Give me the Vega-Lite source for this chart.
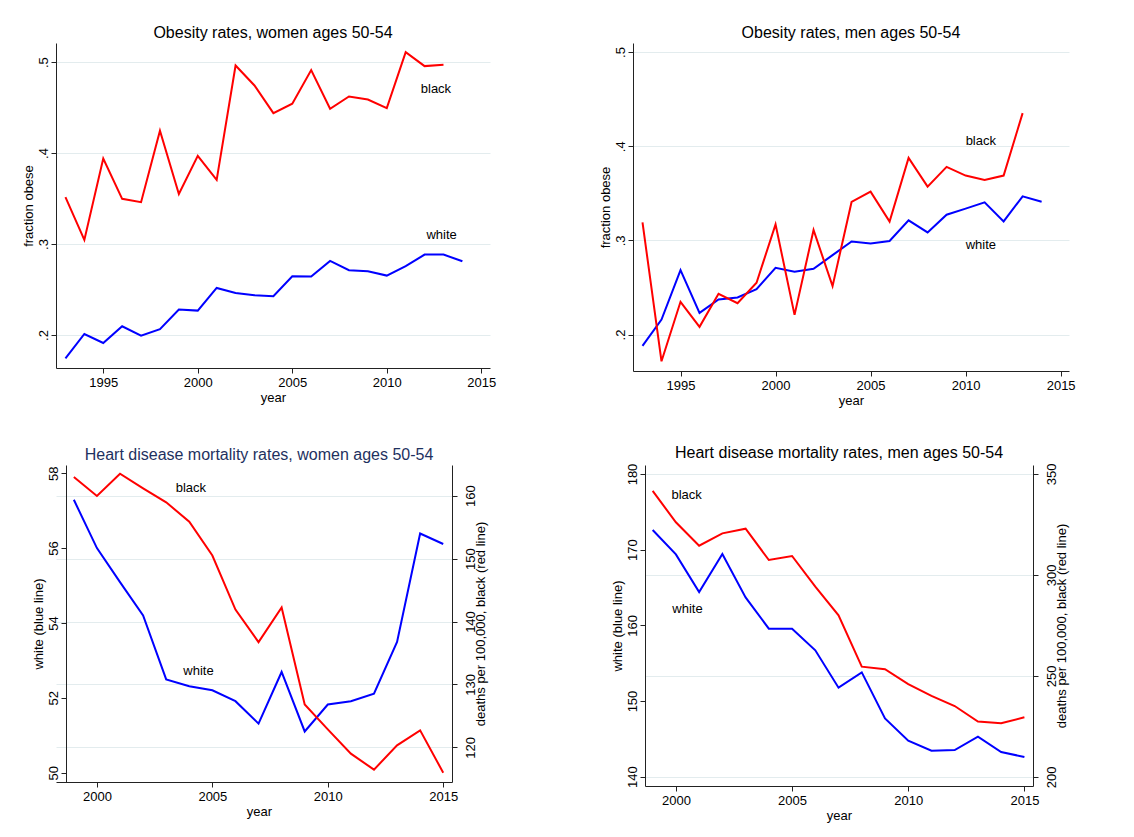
{
  "$schema": "https://vega.github.io/schema/vega-lite/v6.json",
  "background": "white",
  "padding": {"left": 22, "top": 25, "right": 5, "bottom": 5},
  "config": {
    "view": {"stroke": null},
    "font": "Liberation Sans",
    "title": {"font": "Liberation Sans", "fontSize": 16, "fontWeight": "normal", "color": "#000000", "anchor": "middle", "offset": 2},
    "axis": {"domainColor": "#222222", "domainWidth": 1, "tickColor": "#222222", "tickSize": 5, "labelFont": "Liberation Sans", "labelFontSize": 13, "labelColor": "#000000", "titleFont": "Liberation Sans", "titleFontSize": 13, "titleFontWeight": "normal", "titleColor": "#000000", "gridColor": "#e3ecee", "gridWidth": 1, "labelPadding": 3, "titlePadding": 2},
    "axisLeft": {"labelAngle": -90, "labelAlign": "center", "labelBaseline": "bottom", "labelPadding": 1},
    "axisRight": {"labelAngle": -90, "labelAlign": "center", "labelBaseline": "top", "labelPadding": 7, "titleAngle": -90, "titleBaseline": "top", "titlePadding": -3},
    "text": {"font": "Liberation Sans", "fontSize": 13, "color": "#000000"},
    "line": {"strokeWidth": 2}
  },
  "datasets": {
    "series": [
      {"panel":"ow","race":"black","year":1993,"value":0.3515},{"panel":"ow","race":"black","year":1994,"value":0.3045},{"panel":"ow","race":"black","year":1995,"value":0.394},{"panel":"ow","race":"black","year":1996,"value":0.3497},{"panel":"ow","race":"black","year":1997,"value":0.346},{"panel":"ow","race":"black","year":1998,"value":0.4245},{"panel":"ow","race":"black","year":1999,"value":0.355},{"panel":"ow","race":"black","year":2000,"value":0.397},{"panel":"ow","race":"black","year":2001,"value":0.3706},{"panel":"ow","race":"black","year":2002,"value":0.4963},{"panel":"ow","race":"black","year":2003,"value":0.4743},{"panel":"ow","race":"black","year":2004,"value":0.4439},{"panel":"ow","race":"black","year":2005,"value":0.4542},{"panel":"ow","race":"black","year":2006,"value":0.4912},{"panel":"ow","race":"black","year":2007,"value":0.4487},{"panel":"ow","race":"black","year":2008,"value":0.4622},{"panel":"ow","race":"black","year":2009,"value":0.4589},{"panel":"ow","race":"black","year":2010,"value":0.4494},{"panel":"ow","race":"black","year":2011,"value":0.511},{"panel":"ow","race":"black","year":2012,"value":0.4956},{"panel":"ow","race":"black","year":2013,"value":0.4971},
      {"panel":"ow","race":"white","year":1993,"value":0.1744},{"panel":"ow","race":"white","year":1994,"value":0.2011},{"panel":"ow","race":"white","year":1995,"value":0.1912},{"panel":"ow","race":"white","year":1996,"value":0.2096},{"panel":"ow","race":"white","year":1997,"value":0.1993},{"panel":"ow","race":"white","year":1998,"value":0.2063},{"panel":"ow","race":"white","year":1999,"value":0.2279},{"panel":"ow","race":"white","year":2000,"value":0.2268},{"panel":"ow","race":"white","year":2001,"value":0.2517},{"panel":"ow","race":"white","year":2002,"value":0.2462},{"panel":"ow","race":"white","year":2003,"value":0.2437},{"panel":"ow","race":"white","year":2004,"value":0.2426},{"panel":"ow","race":"white","year":2005,"value":0.2646},{"panel":"ow","race":"white","year":2006,"value":0.2642},{"panel":"ow","race":"white","year":2007,"value":0.2814},{"panel":"ow","race":"white","year":2008,"value":0.2712},{"panel":"ow","race":"white","year":2009,"value":0.2701},{"panel":"ow","race":"white","year":2010,"value":0.2653},{"panel":"ow","race":"white","year":2011,"value":0.2756},{"panel":"ow","race":"white","year":2012,"value":0.2884},{"panel":"ow","race":"white","year":2013,"value":0.2884},{"panel":"ow","race":"white","year":2014,"value":0.2811},
      {"panel":"om","race":"black","year":1993,"value":0.3191},{"panel":"om","race":"black","year":1994,"value":0.1716},{"panel":"om","race":"black","year":1995,"value":0.2348},{"panel":"om","race":"black","year":1996,"value":0.2082},{"panel":"om","race":"black","year":1997,"value":0.2433},{"panel":"om","race":"black","year":1998,"value":0.2333},{"panel":"om","race":"black","year":1999,"value":0.255},{"panel":"om","race":"black","year":2000,"value":0.317},{"panel":"om","race":"black","year":2001,"value":0.2209},{"panel":"om","race":"black","year":2002,"value":0.311},{"panel":"om","race":"black","year":2003,"value":0.2514},{"panel":"om","race":"black","year":2004,"value":0.3408},{"panel":"om","race":"black","year":2005,"value":0.3518},{"panel":"om","race":"black","year":2006,"value":0.3199},{"panel":"om","race":"black","year":2007,"value":0.3876},{"panel":"om","race":"black","year":2008,"value":0.3571},{"panel":"om","race":"black","year":2009,"value":0.378},{"panel":"om","race":"black","year":2010,"value":0.3688},{"panel":"om","race":"black","year":2011,"value":0.3642},{"panel":"om","race":"black","year":2012,"value":0.3688},{"panel":"om","race":"black","year":2013,"value":0.4351},
      {"panel":"om","race":"white","year":1993,"value":0.188},{"panel":"om","race":"white","year":1994,"value":0.216},{"panel":"om","race":"white","year":1995,"value":0.2684},{"panel":"om","race":"white","year":1996,"value":0.223},{"panel":"om","race":"white","year":1997,"value":0.2372},{"panel":"om","race":"white","year":1998,"value":0.2394},{"panel":"om","race":"white","year":1999,"value":0.2482},{"panel":"om","race":"white","year":2000,"value":0.2709},{"panel":"om","race":"white","year":2001,"value":0.2667},{"panel":"om","race":"white","year":2002,"value":0.2699},{"panel":"om","race":"white","year":2003,"value":0.2844},{"panel":"om","race":"white","year":2004,"value":0.2989},{"panel":"om","race":"white","year":2005,"value":0.2968},{"panel":"om","race":"white","year":2006,"value":0.2993},{"panel":"om","race":"white","year":2007,"value":0.3213},{"panel":"om","race":"white","year":2008,"value":0.3085},{"panel":"om","race":"white","year":2009,"value":0.3273},{"panel":"om","race":"white","year":2010,"value":0.3337},{"panel":"om","race":"white","year":2011,"value":0.3404},{"panel":"om","race":"white","year":2012,"value":0.3202},{"panel":"om","race":"white","year":2013,"value":0.3468},{"panel":"om","race":"white","year":2014,"value":0.3411},
      {"panel":"hw","race":"white","year":1999,"value":57.29},{"panel":"hw","race":"white","year":2000,"value":56.0},{"panel":"hw","race":"white","year":2001,"value":55.09},{"panel":"hw","race":"white","year":2002,"value":54.2},{"panel":"hw","race":"white","year":2003,"value":52.49},{"panel":"hw","race":"white","year":2004,"value":52.31},{"panel":"hw","race":"white","year":2005,"value":52.2},{"panel":"hw","race":"white","year":2006,"value":51.91},{"panel":"hw","race":"white","year":2007,"value":51.31},{"panel":"hw","race":"white","year":2008,"value":52.69},{"panel":"hw","race":"white","year":2009,"value":51.1},{"panel":"hw","race":"white","year":2010,"value":51.82},{"panel":"hw","race":"white","year":2011,"value":51.91},{"panel":"hw","race":"white","year":2012,"value":52.11},{"panel":"hw","race":"white","year":2013,"value":53.49},{"panel":"hw","race":"white","year":2014,"value":56.39},{"panel":"hw","race":"white","year":2015,"value":56.11},
      {"panel":"hw","race":"black","year":1999,"value":162.96},{"panel":"hw","race":"black","year":2000,"value":159.95},{"panel":"hw","race":"black","year":2001,"value":163.49},{"panel":"hw","race":"black","year":2002,"value":161.16},{"panel":"hw","race":"black","year":2003,"value":158.94},{"panel":"hw","race":"black","year":2004,"value":155.87},{"panel":"hw","race":"black","year":2005,"value":150.48},{"panel":"hw","race":"black","year":2006,"value":141.9},{"panel":"hw","race":"black","year":2007,"value":136.72},{"panel":"hw","race":"black","year":2008,"value":142.22},{"panel":"hw","race":"black","year":2009,"value":126.83},{"panel":"hw","race":"black","year":2010,"value":122.86},{"panel":"hw","race":"black","year":2011,"value":119.0},{"panel":"hw","race":"black","year":2012,"value":116.46},{"panel":"hw","race":"black","year":2013,"value":120.32},{"panel":"hw","race":"black","year":2014,"value":122.7},{"panel":"hw","race":"black","year":2015,"value":115.98},
      {"panel":"hm","race":"white","year":1999,"value":172.6},{"panel":"hm","race":"white","year":2000,"value":169.38},{"panel":"hm","race":"white","year":2001,"value":164.41},{"panel":"hm","race":"white","year":2002,"value":169.43},{"panel":"hm","race":"white","year":2003,"value":163.7},{"panel":"hm","race":"white","year":2004,"value":159.56},{"panel":"hm","race":"white","year":2005,"value":159.56},{"panel":"hm","race":"white","year":2006,"value":156.7},{"panel":"hm","race":"white","year":2007,"value":151.76},{"panel":"hm","race":"white","year":2008,"value":153.79},{"panel":"hm","race":"white","year":2009,"value":147.71},{"panel":"hm","race":"white","year":2010,"value":144.76},{"panel":"hm","race":"white","year":2011,"value":143.44},{"panel":"hm","race":"white","year":2012,"value":143.52},{"panel":"hm","race":"white","year":2013,"value":145.29},{"panel":"hm","race":"white","year":2014,"value":143.26},{"panel":"hm","race":"white","year":2015,"value":142.6},
      {"panel":"hm","race":"black","year":1999,"value":341.6},{"panel":"hm","race":"black","year":2000,"value":326.07},{"panel":"hm","race":"black","year":2001,"value":314.5},{"panel":"hm","race":"black","year":2002,"value":320.6},{"panel":"hm","race":"black","year":2003,"value":322.9},{"panel":"hm","race":"black","year":2004,"value":307.4},{"panel":"hm","race":"black","year":2005,"value":309.4},{"panel":"hm","race":"black","year":2006,"value":294.2},{"panel":"hm","race":"black","year":2007,"value":280.0},{"panel":"hm","race":"black","year":2008,"value":254.6},{"panel":"hm","race":"black","year":2009,"value":253.3},{"panel":"hm","race":"black","year":2010,"value":246.0},{"panel":"hm","race":"black","year":2011,"value":240.1},{"panel":"hm","race":"black","year":2012,"value":235.1},{"panel":"hm","race":"black","year":2013,"value":227.4},{"panel":"hm","race":"black","year":2014,"value":226.6},{"panel":"hm","race":"black","year":2015,"value":229.5}
    ],
    "labels": [
      {"panel":"ow","race":"black","year":2012.6,"value":0.470,"label":"black"},
      {"panel":"ow","race":"white","year":2012.9,"value":0.3097,"label":"white"},
      {"panel":"om","race":"black","year":2010.8,"value":0.4053,"label":"black"},
      {"panel":"om","race":"white","year":2010.8,"value":0.2947,"label":"white"},
      {"panel":"hw","race":"black","year":2004.07,"value":161.16,"label":"black"},
      {"panel":"hw","race":"white","year":2004.4,"value":52.71,"label":"white"},
      {"panel":"hm","race":"black","year":2000.46,"value":339.77,"label":"black"},
      {"panel":"hm","race":"white","year":2000.5,"value":162.16,"label":"white"}
    ]
  },
  "vconcat": [
    {
      "bounds": "flush",
      "spacing": 143,
      "hconcat": [
        {
          "width": 434, "height": 325,
          "title": {"text": "Obesity rates, women ages 50-54"},
          "encoding": {
            "x": {"field": "year", "type": "quantitative", "scale": {"domain": [1992.5, 2015.46], "nice": false, "zero": false}, "axis": {"values": [1995, 2000, 2005, 2010, 2015], "format": "d", "title": "year", "grid": false}},
            "y": {"field": "value", "type": "quantitative", "scale": {"domain": [0.1637, 0.521], "nice": false, "zero": false}, "axis": {"values": [0.2, 0.3, 0.4, 0.5], "labelExpr": "substring(format(datum.value, '.1f'), 1)", "title": "fraction obese", "grid": true}}
          },
          "layer": [
            {"data": {"name": "series"}, "transform": [{"filter": "datum.panel === 'ow' && datum.race === 'white'"}], "mark": {"type": "line", "color": "#0000ff"}},
            {"data": {"name": "series"}, "transform": [{"filter": "datum.panel === 'ow' && datum.race === 'black'"}], "mark": {"type": "line", "color": "#ff0000"}},
            {"data": {"name": "labels"}, "transform": [{"filter": "datum.panel === 'ow'"}], "mark": {"type": "text", "align": "center", "baseline": "middle"}, "encoding": {"text": {"field": "label", "type": "nominal"}}}
          ]
        },
        {
          "width": 436, "height": 328,
          "title": {"text": "Obesity rates, men ages 50-54"},
          "encoding": {
            "x": {"field": "year", "type": "quantitative", "scale": {"domain": [1992.5, 2015.44], "nice": false, "zero": false}, "axis": {"values": [1995, 2000, 2005, 2010, 2015], "format": "d", "title": "year", "grid": false}},
            "y": {"field": "value", "type": "quantitative", "scale": {"domain": [0.1613, 0.5096], "nice": false, "zero": false}, "axis": {"values": [0.2, 0.3, 0.4, 0.5], "labelExpr": "substring(format(datum.value, '.1f'), 1)", "title": "fraction obese", "grid": true}}
          },
          "layer": [
            {"data": {"name": "series"}, "transform": [{"filter": "datum.panel === 'om' && datum.race === 'white'"}], "mark": {"type": "line", "color": "#0000ff"}},
            {"data": {"name": "series"}, "transform": [{"filter": "datum.panel === 'om' && datum.race === 'black'"}], "mark": {"type": "line", "color": "#ff0000"}},
            {"data": {"name": "labels"}, "transform": [{"filter": "datum.panel === 'om'"}], "mark": {"type": "text", "align": "center", "baseline": "middle"}, "encoding": {"text": {"field": "label", "type": "nominal"}}}
          ]
        }
      ]
    },
    {
      "bounds": "flush",
      "spacing": 193,
      "hconcat": [
        {
          "width": 396, "height": 317,
          "title": {"text": "Heart disease mortality rates, women ages 50-54", "color": "#1e3160", "dx": 5},
          "encoding": {
            "x": {"field": "year", "type": "quantitative", "scale": {"domain": [1998.227, 2015.38], "nice": false, "zero": false}, "axis": {"values": [2000, 2005, 2010, 2015], "format": "d", "title": "year", "grid": false, "titleX": 203}}
          },
          "layer": [
            {
              "encoding": {"y": {"field": "value", "type": "quantitative", "scale": {"domain": [49.75, 58.22], "nice": false, "zero": false}, "axis": {"orient": "left", "offset": -10, "values": [50, 52, 54, 56, 58], "title": "white (blue line)", "grid": false}}},
              "layer": [
                {"data": {"name": "series"}, "transform": [{"filter": "datum.panel === 'hw' && datum.race === 'white'"}], "mark": {"type": "line", "color": "#0000ff"}},
                {"data": {"name": "labels"}, "transform": [{"filter": "datum.panel === 'hw' && datum.race === 'white'"}], "mark": {"type": "text", "align": "center", "baseline": "middle"}, "encoding": {"text": {"field": "label", "type": "nominal"}}}
              ]
            },
            {
              "encoding": {"y": {"field": "value", "type": "quantitative", "scale": {"domain": [114.5, 164.87], "nice": false, "zero": false}, "axis": {"orient": "right", "values": [120, 130, 140, 150, 160], "title": "deaths per 100,000, black (red line)", "grid": true}}},
              "layer": [
                {"data": {"name": "series"}, "transform": [{"filter": "datum.panel === 'hw' && datum.race === 'black'"}], "mark": {"type": "line", "color": "#ff0000"}},
                {"data": {"name": "labels"}, "transform": [{"filter": "datum.panel === 'hw' && datum.race === 'black'"}], "mark": {"type": "text", "align": "center", "baseline": "middle"}, "encoding": {"text": {"field": "label", "type": "nominal"}}}
              ]
            }
          ],
          "resolve": {"scale": {"y": "independent"}, "axis": {"y": "independent"}}
        },
        {
          "width": 388, "height": 321,
          "title": {"text": "Heart disease mortality rates, men ages 50-54"},
          "encoding": {
            "x": {"field": "year", "type": "quantitative", "scale": {"domain": [1998.67, 2015.37], "nice": false, "zero": false}, "axis": {"values": [2000, 2005, 2010, 2015], "format": "d", "title": "year", "grid": false}}
          },
          "layer": [
            {
              "encoding": {"y": {"field": "value", "type": "quantitative", "scale": {"domain": [138.77, 181.19], "nice": false, "zero": false}, "axis": {"orient": "left", "values": [140, 150, 160, 170, 180], "title": "white (blue line)", "grid": false}}},
              "layer": [
                {"data": {"name": "series"}, "transform": [{"filter": "datum.panel === 'hm' && datum.race === 'white'"}], "mark": {"type": "line", "color": "#0000ff"}},
                {"data": {"name": "labels"}, "transform": [{"filter": "datum.panel === 'hm' && datum.race === 'white'"}], "mark": {"type": "text", "align": "center", "baseline": "middle"}, "encoding": {"text": {"field": "label", "type": "nominal"}}}
              ]
            },
            {
              "encoding": {"y": {"field": "value", "type": "quantitative", "scale": {"domain": [195.5, 354.45], "nice": false, "zero": false}, "axis": {"orient": "right", "values": [200, 250, 300, 350], "title": "deaths per 100,000, black (red line)", "grid": true}}},
              "layer": [
                {"data": {"name": "series"}, "transform": [{"filter": "datum.panel === 'hm' && datum.race === 'black'"}], "mark": {"type": "line", "color": "#ff0000"}},
                {"data": {"name": "labels"}, "transform": [{"filter": "datum.panel === 'hm' && datum.race === 'black'"}], "mark": {"type": "text", "align": "center", "baseline": "middle"}, "encoding": {"text": {"field": "label", "type": "nominal"}}}
              ]
            }
          ],
          "resolve": {"scale": {"y": "independent"}, "axis": {"y": "independent"}}
        }
      ]
    }
  ],
  "spacing": 38
}
